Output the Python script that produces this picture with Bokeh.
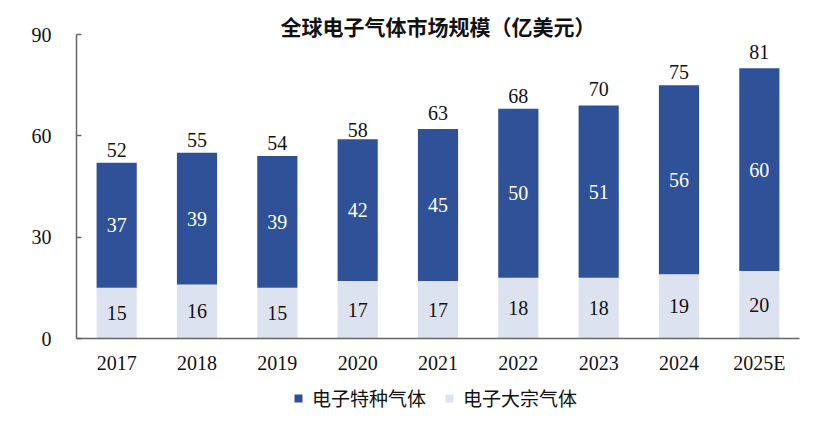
from bokeh.plotting import figure
from bokeh.layouts import column
from bokeh.models import ColumnDataSource, FactorRange, Range1d, Legend, LegendItem, FixedTicker
from bokeh.core.properties import value
from bokeh.embed import file_html
from bokeh.resources import INLINE

years = ["2017", "2018", "2019", "2020", "2021", "2022", "2023", "2024", "2025E"]
special = [37, 39, 39, 42, 45, 50, 51, 56, 60]   # 电子特种气体
bulk = [15, 16, 15, 17, 17, 18, 18, 19, 20]      # 电子大宗气体
totals = [52, 55, 54, 58, 63, 68, 70, 75, 81]

DARK = "#2F5197"
LIGHT = "#DDE2F0"
SERIF = "Liberation Serif"
CJK = "Noto Sans CJK SC"

source = ColumnDataSource(data=dict(
    year=years,
    special=special,
    bulk=bulk,
    total=totals,
    top=[b + s for b, s in zip(bulk, special)],
    mid_special=[b + s / 2 for b, s in zip(bulk, special)],
    mid_bulk=[b / 2 for b in bulk],
    special_txt=[str(v) for v in special],
    bulk_txt=[str(v) for v in bulk],
    total_txt=[str(v) for v in totals],
))

p = figure(width=815, height=378, output_backend="svg", toolbar_location=None, tools="",
           x_range=FactorRange(factors=years, range_padding=0), y_range=Range1d(0, 90),
           title="全球电子气体市场规模（亿美元）",
           min_border_left=76, min_border_right=16, min_border_top=34, min_border_bottom=40)
p.outline_line_color = None
p.grid.grid_line_color = None

p.title.align = "center"
p.title.text_font = CJK
p.title.text_font_size = "21px"
p.title.text_font_style = "bold"
p.title.text_color = "#111111"
p.title.offset = -27
p.title.standoff = -12

p.vbar(x="year", bottom=0, top="bulk", width=0.5, source=source,
       fill_color=LIGHT, line_color=None)
p.vbar(x="year", bottom="bulk", top="top", width=0.5, source=source,
       fill_color=DARK, line_color=None)

p.text(x="year", y="total", text="total_txt", source=source, text_align="center",
       text_baseline="bottom", y_offset=-6, text_font=value(SERIF), text_font_size="20px",
       text_color="#111111")
p.text(x="year", y="mid_special", text="special_txt", source=source, text_align="center",
       text_baseline="middle", text_font=value(SERIF), text_font_size="20px",
       text_color="white")
p.text(x="year", y="mid_bulk", text="bulk_txt", source=source, text_align="center",
       text_baseline="middle", text_font=value(SERIF), text_font_size="20px",
       text_color="#111111")

for ax in (p.xaxis, p.yaxis):
    ax.axis_line_color = "#666666"
    ax.axis_line_width = 1.5
    ax.major_label_text_font = SERIF
    ax.major_label_text_font_size = "20px"
    ax.major_label_text_color = "#111111"
    ax.minor_tick_line_color = None

p.xaxis.major_tick_line_color = None
p.xaxis.major_label_standoff = 7
p.yaxis.ticker = FixedTicker(ticks=[0, 30, 60, 90])
p.yaxis.major_tick_line_color = "#666666"
p.yaxis.major_tick_line_width = 1.5
p.yaxis.major_tick_in = 5
p.yaxis.major_tick_out = 0
p.yaxis.major_label_standoff = 25

# legend strip under the chart
leg = figure(width=815, height=33, output_backend="svg", toolbar_location=None, tools="",
             x_range=Range1d(0, 1), y_range=Range1d(0, 1), min_border=0,
             x_axis_location=None, y_axis_location=None)
leg.outline_line_color = None
leg.grid.grid_line_color = None
sw_special = leg.vbar(x=[5], bottom=[4], top=[5], width=0.5, fill_color=DARK, line_color=None)
sw_bulk = leg.vbar(x=[5], bottom=[4], top=[5], width=0.5, fill_color=LIGHT, line_color=None)

legend = Legend(items=[LegendItem(label="电子特种气体", renderers=[sw_special]),
                       LegendItem(label="电子大宗气体", renderers=[sw_bulk])],
                location=(217, 0), orientation="horizontal",
                glyph_width=10, glyph_height=10, label_standoff=9, spacing=18,
                label_text_font=CJK, label_text_font_size="19px", label_text_color="#111111",
                padding=0, margin=0, border_line_color=None, background_fill_alpha=0)
leg.add_layout(legend, "center")

open("out.html", "w").write(file_html(column(p, leg), INLINE))
